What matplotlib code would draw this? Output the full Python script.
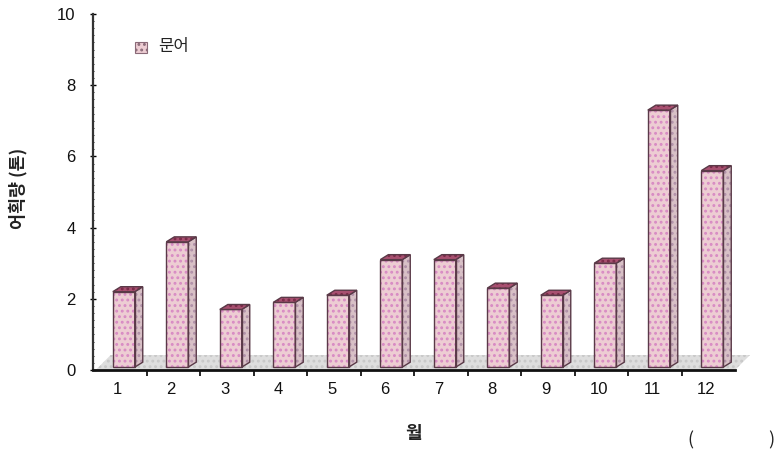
import matplotlib
matplotlib.use("Agg")
import matplotlib.pyplot as plt
from matplotlib.patches import Polygon, Rectangle

months = ["1", "2", "3", "4", "5", "6", "7", "8", "9", "10", "11", "12"]
catch_tons = [2.2, 3.6, 1.7, 1.9, 2.1, 3.1, 3.1, 2.3, 2.1, 3.0, 7.3, 5.6]
series_name = "문어"
y_label = "어획량 (톤)"
x_label = "월"

plt.rcParams['font.family'] = ['Noto Sans CJK KR', 'DejaVu Sans']
plt.rcParams['hatch.linewidth'] = 1.3

W, H = 776, 463
fig = plt.figure(figsize=(W / 100, H / 100), dpi=100)
ax = fig.add_axes([93 / W, 93 / H, 642 / W, 356 / H])
ax.set_xlim(0, 12)
ax.set_ylim(0, 10)

face = '#edcdd3'
side = '#d8c0c6'
top = '#a85070'
edge = '#5a3a48'
dots = '#d88ac4'
floor_c = '#dedede'


def hatched(poly_pts, fc, hc, z):
    p = Polygon(poly_pts, closed=True, facecolor=fc, edgecolor=hc, lw=0, hatch='...',
                clip_on=False, zorder=z)
    ax.add_patch(p)
    o = Polygon(poly_pts, closed=True, facecolor='none', edgecolor=edge, lw=1.0,
                clip_on=False, zorder=z + 0.1)
    ax.add_patch(o)


# floor
dxf, dyf = 0.28, 0.42
floor = Polygon([(0.05, 0), (12, 0), (12 + dxf, dyf), (0.05 + dxf, dyf)], closed=True,
                facecolor=floor_c, edgecolor='#c8c8c8', lw=0, hatch='...', clip_on=False, zorder=1)
ax.add_patch(floor)

# 3D bars
bw, dx, dy, base = 0.41, 0.15, 0.14, 0.08
for i, v in enumerate(catch_tons):
    x0 = i + 0.37
    hatched([(x0, base), (x0 + bw, base), (x0 + bw, v), (x0, v)], face, dots, 3)
    hatched([(x0 + bw, base), (x0 + bw + dx, base + dy), (x0 + bw + dx, v + dy), (x0 + bw, v)],
            side, '#b090a8', 3)
    hatched([(x0, v), (x0 + bw, v), (x0 + bw + dx, v + dy), (x0 + dx, v + dy)], top, '#7a2a48', 4)

for s in ['top', 'right']:
    ax.spines[s].set_visible(False)
ax.spines['left'].set_linewidth(1.6)
ax.spines['bottom'].set_linewidth(2.0)
ax.spines['left'].set_color('#333333')
ax.spines['bottom'].set_color('#111111')

ax.set_yticks(range(0, 11, 2))
ax.set_yticks([k * 0.2 for k in range(51)], minor=True)
ax.tick_params(axis='y', which='major', direction='inout', length=5, width=1,
               labelsize=12, pad=10)
ax.tick_params(axis='y', which='minor', direction='inout', length=2, width=0.6)

centers = [i + 0.46 for i in range(12)]
ax.set_xticks(centers)
ax.set_xticklabels(months)
ax.set_xticks(list(range(1, 12)), minor=True)
ax.tick_params(axis='x', which='major', length=0, labelsize=12, pad=9)
ax.tick_params(axis='x', which='minor', direction='out', length=4, width=1.2)
for lab in ax.get_xticklabels() + ax.get_yticklabels():
    lab.set_fontfamily(['Liberation Sans', 'DejaVu Sans'])
    lab.set_color('#111111')

# legend
fig.patches.append(Rectangle((135 / W, 1 - 53 / H), 12 / W, 11 / H, transform=fig.transFigure,
                             facecolor=face, edgecolor='#8a6a78', lw=0.8, hatch='...'))
fig.text(158 / W, 1 - 47 / H, series_name, fontsize=12, va='center', ha='left', color='#222222')

fig.text(18 / W, 1 - 188 / H, y_label, rotation=90, fontsize=12.5, va='center', ha='center',
         color='#222222', fontweight='bold')
fig.text(414 / W, 1 - 433 / H, x_label, fontsize=13, va='center', ha='center', color='#222222',
         fontweight='bold')
fig.text(690 / W, 1 - 440 / H, "(", fontsize=13, va='center', ha='center', color='#222222')
fig.text(771 / W, 1 - 440 / H, ")", fontsize=13, va='center', ha='center', color='#222222')

fig.savefig("out.png", dpi=100)
